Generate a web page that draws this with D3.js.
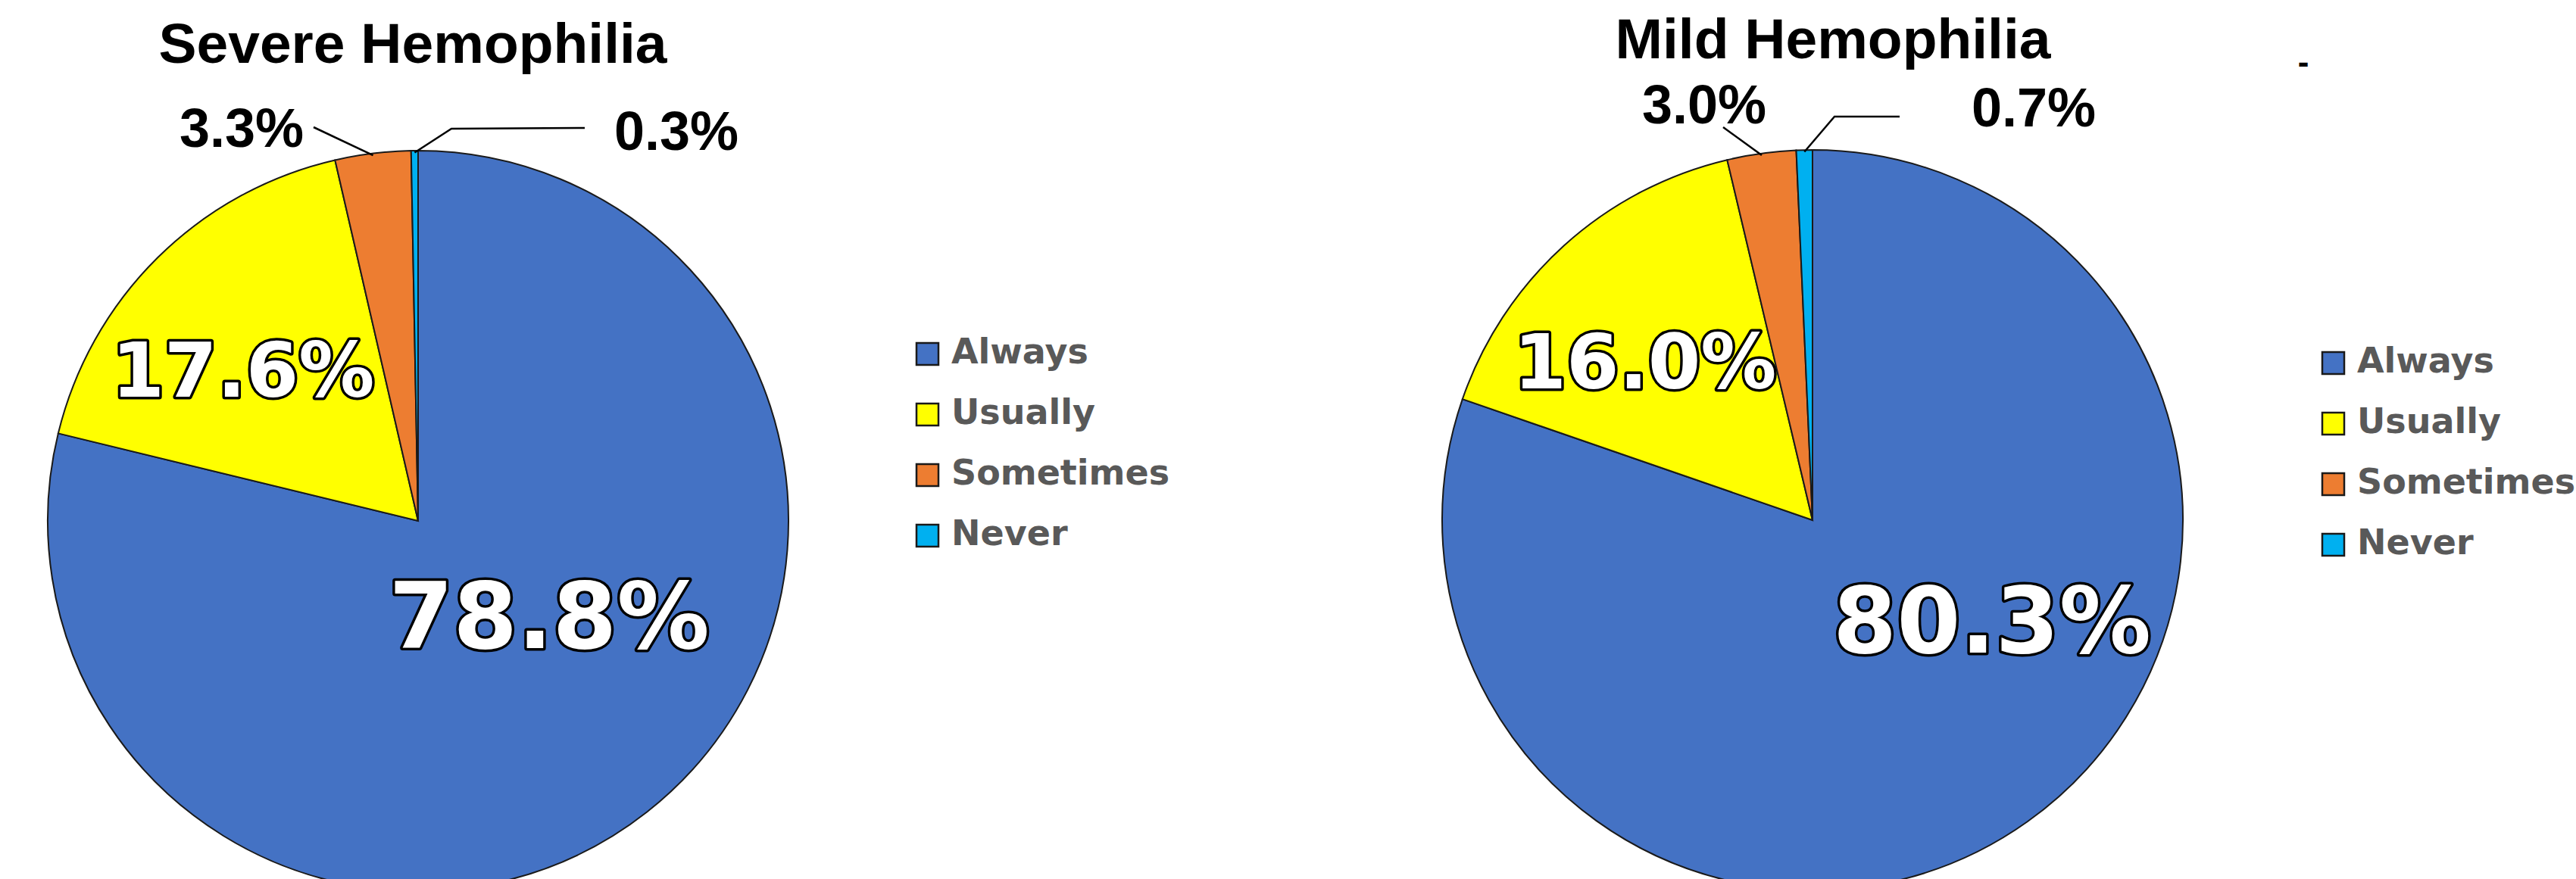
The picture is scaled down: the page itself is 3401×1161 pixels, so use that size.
<!DOCTYPE html>
<html>
<head>
<meta charset="utf-8">
<script src="https://cdn.jsdelivr.net/npm/d3@7"></script>
<style>
  html, body { margin: 0; padding: 0; background: #ffffff; }
  svg { display: block; }
</style>
</head>
<body>
<svg id="chart" width="3401" height="1161"></svg>
<script>
// ---- data ----
const categories = ["Always", "Usually", "Sometimes", "Never"];
const severeValues = [78.8, 17.6, 3.3, 0.3];
const mildValues = [80.3, 16.0, 3.0, 0.7];
const chartTitles = ["Severe Hemophilia", "Mild Hemophilia"];
const sliceColors = ["#4472C4", "#FFFF00", "#ED7D31", "#00B0F0"];

// ---- layout ----
const svg = d3.select("#chart");

const charts = [
  {
    title: chartTitles[0], values: severeValues,
    cx: 552, cy: 688, rx: 489, ry: 489,
    titleX: 545, titleY: 83,
    legendX: 1209, legendY: 452,
    labels: [
      { dx: 173, dy: 126, size: 122, inside: true },
      { dx: -231, dy: -199, size: 100, inside: true },
      { dx: -233, dy: -519, size: 72, inside: false, leader: [[-138, -520]] },
      { dx: 341, dy: -515, size: 72, inside: false, leader: [[220, -519], [44, -518]] }
    ]
  },
  {
    title: chartTitles[1], values: mildValues,
    cx: 2393, cy: 687, rx: 489, ry: 489,
    titleX: 2420, titleY: 77,
    legendX: 3065, legendY: 464,
    labels: [
      { dx: 237, dy: 133, size: 121, inside: true },
      { dx: -221, dy: -209, size: 100, inside: true },
      { dx: -143, dy: -549, size: 72, inside: false, leader: [[-118, -519]] },
      { dx: 292, dy: -545, size: 72, inside: false, leader: [[115, -533], [29, -533]] }
    ]
  }
];

const pie = d3.pie().sort(null).value(d => d).startAngle(0).endAngle(2 * Math.PI);

charts.forEach(ch => {
  const arcs = pie(ch.values);
  const arc = d3.arc().innerRadius(0).outerRadius(ch.rx);
  const color = d3.scaleOrdinal().domain(categories).range(sliceColors);
  const sy = ch.ry / ch.rx;

  // slices
  const g = svg.append("g")
    .attr("transform", `translate(${ch.cx},${ch.cy}) scale(1,${sy})`);
  g.selectAll("path")
    .data(arcs)
    .join("path")
    .attr("d", arc)
    .attr("fill", (d, i) => color(categories[i]))
    .attr("stroke", "#1a1a1a")
    .attr("stroke-width", 2)
    .attr("vector-effect", "non-scaling-stroke");

  // title
  svg.append("text")
    .attr("x", ch.titleX).attr("y", ch.titleY)
    .attr("text-anchor", "middle")
    .attr("font-family", "'Liberation Sans', Arial, sans-serif")
    .attr("font-weight", "bold")
    .attr("font-size", 75)
    .attr("fill", "#000")
    .text(ch.title);

  // leader lines for small slices
  const lg = svg.append("g").attr("transform", `translate(${ch.cx},${ch.cy})`);
  arcs.forEach((a, i) => {
    const lab = ch.labels[i];
    if (!lab.leader) return;
    const mid = (a.startAngle + a.endAngle) / 2;
    const end = [Math.sin(mid) * ch.rx * 0.995, -Math.cos(mid) * ch.ry * 0.995];
    const pts = lab.leader.concat([end]);
    lg.append("path")
      .attr("d", d3.line()(pts))
      .attr("fill", "none")
      .attr("stroke", "#000")
      .attr("stroke-width", 2.5);
  });

  // data labels
  arcs.forEach((a, i) => {
    const lab = ch.labels[i];
    const txt = d3.format(".1f")(a.data) + "%";
    const t = svg.append("text")
      .attr("x", ch.cx + lab.dx)
      .attr("y", ch.cy + lab.dy)
      .attr("text-anchor", "middle")
      .attr("dominant-baseline", "central")
      .attr("font-weight", "bold")
      .text(txt);
    if (lab.inside) {
      t.attr("font-family", "'DejaVu Sans', sans-serif")
        .attr("font-size", lab.size)
        .attr("fill", "#ffffff")
        .attr("stroke", "#000000")
        .attr("stroke-width", 7)
        .attr("stroke-linejoin", "round")
        .attr("paint-order", "stroke");
    } else {
      t.attr("font-family", "'Liberation Sans', Arial, sans-serif")
        .attr("font-size", lab.size)
        .attr("fill", "#000000");
    }
  });

  // legend
  const legStep = 80;
  const leg = svg.append("g").attr("transform", `translate(${ch.legendX},${ch.legendY})`);
  const items = leg.selectAll("g")
    .data(categories)
    .join("g")
    .attr("transform", (d, i) => `translate(0,${i * legStep})`);
  items.append("rect")
    .attr("x", 1).attr("y", 1)
    .attr("width", 29).attr("height", 29)
    .attr("fill", d => color(d))
    .attr("stroke", "#1a1a1a")
    .attr("stroke-width", 2.5);
  items.append("text")
    .attr("x", 47).attr("y", 28)
    .attr("font-family", "'DejaVu Sans', sans-serif")
    .attr("font-weight", "bold")
    .attr("font-size", 46)
    .attr("fill", "#595959")
    .text(d => d);
});

// small stray mark near the top right of the reference
svg.append("text")
  .attr("x", 3041).attr("y", 97)
  .attr("text-anchor", "middle")
  .attr("font-family", "'Liberation Sans', Arial, sans-serif")
  .attr("font-weight", "bold")
  .attr("font-size", 44)
  .attr("fill", "#000")
  .text("-");
</script>
</body>
</html>
